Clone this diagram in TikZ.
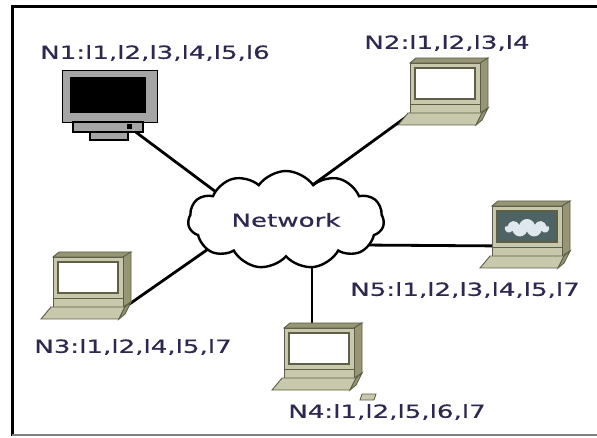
\documentclass[tikz,border=0pt]{standalone}
\usepackage{fontspec}
\setmainfont[FakeStretch=1.45,FakeBold=0.6]{DejaVu Sans}
\usetikzlibrary{shapes.symbols,backgrounds}
\definecolor{labtext}{RGB}{45,40,80}
\definecolor{lapface}{RGB}{200,200,172}
\definecolor{lapside}{RGB}{150,150,118}
\definecolor{lapedge}{RGB}{95,95,72}
\definecolor{scrteal}{RGB}{78,100,100}
\definecolor{scrcloud}{RGB}{222,232,238}
\definecolor{monigray}{RGB}{165,165,165}

\begin{document}
\begin{tikzpicture}[x=1pt,y=-1pt,
		lab/.style={text=labtext,font=\fontsize{18}{20}\selectfont,inner sep=0pt},
		link/.style={line width=2.8pt},
		face/.style={fill=lapface,draw=lapedge,line width=0.9pt},
		side/.style={fill=lapside,draw=lapedge,line width=0.9pt},
		scr/.style={draw=lapedge,line width=1.8pt},
		box/.style={draw=lapedge,fill=lapface,line width=0.9pt,minimum width=70pt,minimum height=50pt,anchor=north west,inner sep=0pt}]
		\useasboundingbox (0,0) rectangle (597,438);

		% frame
		\draw[line width=3pt] (12,436) -- (12,7) -- (597,7);
		\draw[gray,line width=1.4pt] (12,435) -- (597,435);

		% network
		\node[cloud,draw,fill=white,line width=2.4pt,cloud puffs=11,cloud puff arc=110,aspect=2,minimum width=196pt,minimum height=98pt,inner sep=0pt,lab] (net) at (286,220) {Network};

		% N1
		\node[draw,fill=monigray,line width=1.2pt,minimum width=95pt,minimum height=52pt,anchor=north west,inner sep=0pt] (n1) at (62,70) {};
		\fill (70,77) rectangle (146,113);
		\draw[fill=monigray,line width=1.2pt] (73,122) rectangle (143,132);
		\draw[fill=monigray,line width=1.2pt] (90,132) rectangle (128,140);
		\node[fill=black,minimum size=5pt,inner sep=0pt] (n1port) at (129,127) {};
		\node[lab] (n1lab) at (155,53) {N1:l1,l2,l3,l4,l5,l6};

		% N2
		\begin{scope}[shift={(410,63)}]
			\draw[side] (0,0) -- (6,-5) -- (78,-5) -- (70,0) -- cycle;
			\draw[side] (70,0) -- (78,-5) -- (78,45) -- (70,50) -- cycle;
			\node[box] (n2) at (0,0) {};
			\draw[scr,fill=white] (5,5) rectangle (65,36);
			\draw[lapedge] (0,41) -- (70,41);
			\draw[face] (-2,50) -- (72,50) -- (66,62) -- (-12,62) -- cycle;
			\draw[side] (72,50) -- (78,45) -- (72,57) -- (66,62) -- cycle;
		\end{scope}
		\node[lab] (n2lab) at (447,43) {N2:l1,l2,l3,l4};

		% N3
		\begin{scope}[shift={(53,257)}]
			\draw[side] (0,0) -- (6,-5) -- (78,-5) -- (70,0) -- cycle;
			\draw[side] (70,0) -- (78,-5) -- (78,45) -- (70,50) -- cycle;
			\node[box] (n3) at (0,0) {};
			\draw[scr,fill=white] (5,5) rectangle (65,36);
			\draw[lapedge] (0,41) -- (70,41);
			\draw[face] (-2,50) -- (72,50) -- (66,62) -- (-12,62) -- cycle;
			\draw[side] (72,50) -- (78,45) -- (72,57) -- (66,62) -- cycle;
		\end{scope}
		\node[lab] (n3lab) at (133,347) {N3:l1,l2,l4,l5,l7};

		% N4
		\begin{scope}[shift={(284,328)}]
			\draw[side] (0,0) -- (6,-5) -- (78,-5) -- (70,0) -- cycle;
			\draw[side] (70,0) -- (78,-5) -- (78,45) -- (70,50) -- cycle;
			\node[box] (n4) at (0,0) {};
			\draw[scr,fill=white] (5,5) rectangle (65,36);
			\draw[lapedge] (0,41) -- (70,41);
			\draw[face] (-2,50) -- (72,50) -- (66,62) -- (-12,62) -- cycle;
			\draw[side] (72,50) -- (78,45) -- (72,57) -- (66,62) -- cycle;
			\draw[face] (78,66) -- (92,66) -- (90,72) -- (76,72) -- cycle;
		\end{scope}
		\node[lab] (n4lab) at (387,412) {N4:l1,l2,l5,l6,l7};

		% N5
		\begin{scope}[shift={(492,206)}]
			\draw[side] (0,0) -- (6,-5) -- (78,-5) -- (70,0) -- cycle;
			\draw[side] (70,0) -- (78,-5) -- (78,45) -- (70,50) -- cycle;
			\node[box] (n5) at (0,0) {};
			\draw[scr,fill=scrteal] (5,5) rectangle (65,36);
			\draw[lapedge] (0,41) -- (70,41);
			\draw[face] (-2,50) -- (72,50) -- (66,62) -- (-12,62) -- cycle;
			\draw[side] (72,50) -- (78,45) -- (72,57) -- (66,62) -- cycle;
		\end{scope}
		\node[cloud,cloud puffs=9,fill=scrcloud,minimum width=44pt,minimum height=18pt,aspect=2.5,inner sep=0pt] (n5cloud) at (527,228) {};
		\node[lab] (n5lab) at (465,290) {N5:l1,l2,l3,l4,l5,l7};

		% links
		\coordinate (c1) at (232,204);
		\coordinate (c2) at (296,197);
		\coordinate (c3) at (234,231);
		\coordinate (c4) at (312,240);
		\coordinate (c5) at (360,245);
		\begin{scope}[on background layer]
			\draw[link] (n1port) -- (c1);
			\draw[link] (n2.center) -- (c2);
			\draw[link] (n3.south east) -- (c3);
			\draw[link] ([xshift=28pt]n4.north west) -- (c4);
			\draw[link] ([yshift=11pt]n5.south west) -- (c5);
		\end{scope}
	\end{tikzpicture}
\end{document}
